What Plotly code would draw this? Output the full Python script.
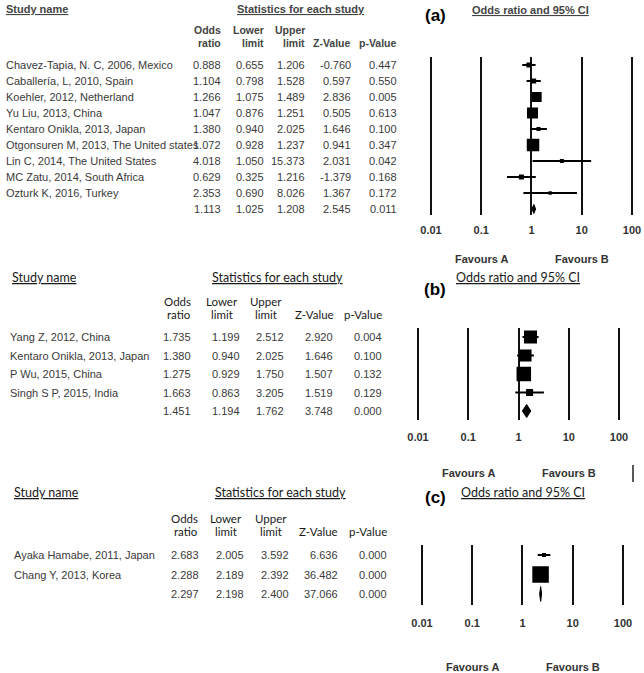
import plotly.graph_objects as go
import math

W, H = 644, 673

# ---------------- data ----------------
# Panel (a)
studies_a = ["Chavez-Tapia, N. C, 2006, Mexico", "Caballería, L, 2010, Spain",
             "Koehler, 2012, Netherland", "Yu Liu, 2013, China",
             "Kentaro Onikla, 2013, Japan", "Otgonsuren M, 2013, The United states",
             "Lin C, 2014, The United States", "MC Zatu, 2014, South Africa",
             "Ozturk K, 2016, Turkey"]
or_a = [0.888, 1.104, 1.266, 1.047, 1.380, 1.072, 4.018, 0.629, 2.353]
lo_a = [0.655, 0.798, 1.075, 0.876, 0.940, 0.928, 1.050, 0.325, 0.690]
hi_a = [1.206, 1.528, 1.489, 1.251, 2.025, 1.237, 15.373, 1.216, 8.026]
z_a = [-0.760, 0.597, 2.836, 0.505, 1.646, 0.941, 2.031, -1.379, 1.367]
p_a = [0.447, 0.550, 0.005, 0.613, 0.100, 0.347, 0.042, 0.168, 0.172]
weight_a = [4.8, 4.8, 19.4, 23.4, 3.1, 30.2, 3.1, 4.8, 2.3]
summary_a = [1.113, 1.025, 1.208, 2.545, 0.011]

# Panel (b)
studies_b = ["Yang Z, 2012, China", "Kentaro Onikla, 2013, Japan",
             "P Wu, 2015, China", "Singh S P, 2015, India"]
or_b = [1.735, 1.380, 1.275, 1.663]
lo_b = [1.199, 0.940, 0.929, 0.863]
hi_b = [2.512, 2.025, 1.750, 3.205]
z_b = [2.920, 1.646, 1.507, 1.519]
p_b = [0.004, 0.100, 0.132, 0.129]
weight_b = [29.5, 25.2, 36.7, 8.6]
summary_b = [1.451, 1.194, 1.762, 3.748, 0.000]

# Panel (c)
studies_c = ["Ayaka Hamabe, 2011, Japan", "Chang Y, 2013, Korea"]
or_c = [2.683, 2.288]
lo_c = [2.005, 2.189]
hi_c = [3.592, 2.392]
z_c = [6.636, 36.482]
p_c = [0.000, 0.000]
weight_c = [5.5, 94.5]
summary_c = [2.297, 2.198, 2.400, 37.066, 0.000]

tick_vals = [0.01, 0.1, 1, 10, 100]
tick_text = ["0.01", "0.1", "1", "10", "100"]
col_top = ["Odds", "Lower", "Upper", "", ""]
col_bottom = ["ratio", "limit", "limit", "Z-Value", "p-Value"]

# ---------------- styles / layout ----------------
ARIAL = "Liberation Sans, Arial, sans-serif"
LATO = "Lato, Liberation Sans, sans-serif"
TXT = "#3a3a3a"

panels = [
    dict(key="a", studies=studies_a, orr=or_a, lo=lo_a, hi=hi_a, z=z_a, p=p_a,
         w=weight_a, s=summary_a, maxbox=12.5, diam=0.28,
         xpix=(431, 632), ypix=(57, 215), row1=65, rowsp=16.0,
         name_x=4, vals_x=[223, 266, 307, 353, 399],
         head_x=[223, 266, 307, 353, 399], head_anchor=["right"] * 5,
         tbl_font=dict(family=ARIAL, size=11, color=TXT),
         head_font=dict(family=ARIAL, size=11, color="#444", weight="bold"),
         colh_font=dict(family=ARIAL, size=10.5, color="#444", weight="bold"),
         colh_y=(30, 43), study_xy=(4, 9), stats_xy=(235, 9),
         lab_xy=(435, 15), title_xy=(530, 10), standoff=7, fav_y=259),
    dict(key="b", studies=studies_b, orr=or_b, lo=lo_b, hi=hi_b, z=z_b, p=p_b,
         w=weight_b, s=summary_b, maxbox=14.5, diam=0.35,
         xpix=(418, 619), ypix=(328, 420), row1=337, rowsp=18.5,
         name_x=8, vals_x=[193, 242, 286, 335, 384],
         head_x=[193, 222, 266, 336, 384],
         head_anchor=["right", "center", "center", "right", "right"],
         tbl_font=dict(family=ARIAL, size=11, color=TXT),
         head_font=dict(family=LATO, size=12.5, color="#1a1a1a"),
         colh_font=dict(family=LATO, size=11.5, color="#1a1a1a"),
         colh_y=(301, 314), study_xy=(10, 277), stats_xy=(210, 277),
         lab_xy=(435, 289), title_xy=(518, 277), standoff=9, fav_y=473),
    dict(key="c", studies=studies_c, orr=or_c, lo=lo_c, hi=hi_c, z=z_c, p=p_c,
         w=weight_c, s=summary_c, maxbox=16.5, diam=0.38,
         xpix=(422, 623), ypix=(545, 605), row1=555, rowsp=19.5,
         name_x=12, vals_x=[201, 246, 291, 340, 389],
         head_x=[200, 226, 271, 340, 389],
         head_anchor=["right", "center", "center", "right", "right"],
         tbl_font=dict(family=ARIAL, size=11, color=TXT),
         head_font=dict(family=LATO, size=12.5, color="#1a1a1a"),
         colh_font=dict(family=LATO, size=11.5, color="#1a1a1a"),
         colh_y=(518, 531), study_xy=(12, 493), stats_xy=(213, 493),
         lab_xy=(435, 497), title_xy=(523, 493), standoff=10, fav_y=667),
]

fig = go.Figure()
annotations = []


def pa(px, py, text, font, anchor="left", yanchor="middle"):
    return dict(text=text, x=px / W, y=1 - py / H, xref="paper", yref="paper",
                xanchor=anchor, yanchor=yanchor, showarrow=False, font=font,
                align=anchor if anchor != "center" else "center")


for i, P in enumerate(panels):
    sfx = "" if i == 0 else str(i + 1)
    xa, ya = "x" + sfx, "y" + sfx
    n = len(P["studies"])
    rows = list(range(1, n + 1))
    srow = n + 1
    # axis geometry
    x0, x1 = P["xpix"]
    ppd = (x1 - x0) / 4.0  # pixels per decade
    pad = 0.1
    dom_x = [(x0 - pad * ppd) / W, (x1 + pad * ppd) / W]
    ytop, ybot = P["ypix"]
    r_top = 1 + (ytop - P["row1"]) / P["rowsp"]
    r_bot = 1 + (ybot - P["row1"]) / P["rowsp"]
    dom_y = [1 - ybot / H, 1 - ytop / H]

    fig.update_layout(**{
        "xaxis" + sfx: dict(type="log", range=[-2 - pad, 2 + pad], domain=dom_x,
                            anchor=ya, tickvals=tick_vals, ticktext=tick_text,
                            showgrid=True, gridcolor="#111", gridwidth=2,
                            showline=False, zeroline=False, ticks="",
                            tickfont=dict(family=ARIAL, size=11, color="#333",
                                          weight="bold"),
                            ticklabelstandoff=P["standoff"], fixedrange=True,
                            automargin=False),
        "yaxis" + sfx: dict(range=[r_bot, r_top], domain=dom_y, anchor=xa,
                            showgrid=False, zeroline=False, showticklabels=False,
                            showline=False, ticks="", fixedrange=True,
                            automargin=False),
    })

    # CI lines
    cx, cy = [], []
    for r, l, h in zip(rows, P["lo"], P["hi"]):
        cx += [l, h, None]
        cy += [r, r, None]
    fig.add_trace(go.Scatter(x=cx, y=cy, mode="lines", xaxis=xa, yaxis=ya,
                             line=dict(color="black", width=2), hoverinfo="skip",
                             showlegend=False))
    # boxes (size ~ sqrt of weight)
    wmax = max(P["w"])
    sizes = [P["maxbox"] * math.sqrt(w / wmax) for w in P["w"]]
    fig.add_trace(go.Scatter(x=P["orr"], y=rows, mode="markers", xaxis=xa, yaxis=ya,
                             marker=dict(symbol="square", size=sizes, color="black",
                                         opacity=1, line=dict(width=0)),
                             showlegend=False))
    # summary diamond
    so, sl, sh = P["s"][0], P["s"][1], P["s"][2]
    d = P["diam"]
    fig.add_trace(go.Scatter(x=[sl, so, sh, so, sl], y=[srow, srow - d, srow, srow + d, srow],
                             mode="lines", fill="toself", fillcolor="black",
                             line=dict(color="black", width=1), xaxis=xa, yaxis=ya,
                             showlegend=False))

    # table rows
    values = list(zip(P["orr"], P["lo"], P["hi"], P["z"], P["p"]))
    for r, name, vals in zip(rows, P["studies"], values):
        annotations.append(dict(text=name, x=P["name_x"] / W, y=r, xref="paper", yref=ya,
                                xanchor="left", yanchor="middle", showarrow=False,
                                font=P["tbl_font"]))
        for cxp, v in zip(P["vals_x"], vals):
            annotations.append(dict(text=f"{v:.3f}", x=cxp / W, y=r, xref="paper",
                                    yref=ya, xanchor="right", yanchor="middle",
                                    showarrow=False, font=P["tbl_font"]))
    # summary row values
    for cxp, v in zip(P["vals_x"], P["s"]):
        annotations.append(dict(text=f"{v:.3f}", x=cxp / W, y=srow, xref="paper",
                                yref=ya, xanchor="right", yanchor="middle",
                                showarrow=False, font=P["tbl_font"]))

    # headers
    annotations.append(pa(*P["study_xy"], "<u>Study name</u>", P["head_font"]))
    annotations.append(pa(*P["stats_xy"], "<u>Statistics for each study</u>", P["head_font"]))
    annotations.append(pa(P["title_xy"][0], P["title_xy"][1], "<u>Odds ratio and 95% CI</u>",
                          P["head_font"], anchor="center"))
    annotations.append(pa(*P["lab_xy"], f"({P['key']})",
                          dict(family=ARIAL, size=17, color="black", weight="bold"),
                          anchor="center"))
    for k in range(5):
        anc = P["head_anchor"][k]
        if col_top[k]:
            annotations.append(pa(P["head_x"][k], P["colh_y"][0], col_top[k],
                                  P["colh_font"], anchor=anc))
        annotations.append(pa(P["head_x"][k], P["colh_y"][1], col_bottom[k],
                              P["colh_font"], anchor=anc))
    # favours
    fav_font = dict(family=ARIAL, size=11, color="#333", weight="bold")
    for xv, t in [(-1, "Favours A"), (1, "Favours B")]:
        annotations.append(dict(text=t, x=xv, y=1 - P["fav_y"] / H, xref=xa, yref="paper",
                                xanchor="center", yanchor="middle", showarrow=False,
                                font=fav_font))

# stray vertical bar after panel (b) "Favours B"
shapes = [dict(type="line", xref="paper", yref="paper", x0=633 / W, x1=633 / W,
               y0=1 - 465 / H, y1=1 - 482 / H, line=dict(color="#222", width=1.5))]

fig.update_layout(width=W, height=H, margin=dict(l=0, r=0, t=0, b=0, pad=0),
                  paper_bgcolor="white", plot_bgcolor="white",
                  annotations=annotations, shapes=shapes, showlegend=False)

fig.write_html("out.html", config={"displayModeBar": False},
               post_script="document.body.style.margin='0';"
                           "document.body.style.overflow='hidden';")
